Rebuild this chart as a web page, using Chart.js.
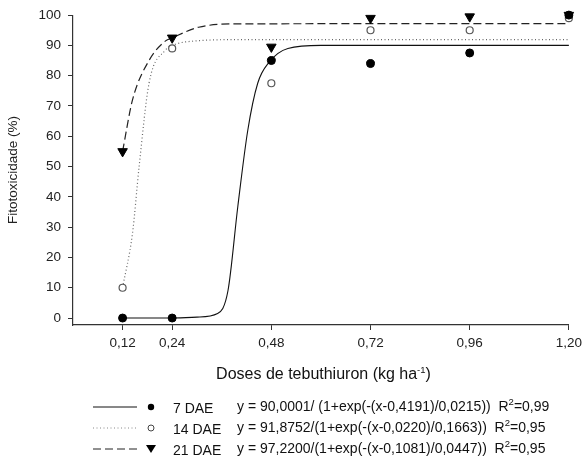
<!DOCTYPE html>
<html><head><meta charset="utf-8">
<script src="https://cdn.jsdelivr.net/npm/chart.js@4"></script>
<style>
html,body{margin:0;padding:0;background:#fff;}
#wrap{position:relative;width:587px;height:458px;font-family:"Liberation Sans",Arial,sans-serif;color:#111;}
#c{position:absolute;left:0;top:0;}
.xt{position:absolute;left:73px;width:501px;top:365px;text-align:center;font-size:16px;}
.lg{position:absolute;font-size:14px;white-space:pre;line-height:16px;}
sup{font-size:9.5px;vertical-align:6px;line-height:0;}
svg{position:absolute;left:0;top:0;}
</style></head><body>
<div id="wrap">
<canvas id="c" width="587" height="458"></canvas>
<div class="xt">Doses de tebuthiuron (kg ha<sup>-1</sup>)</div>
<svg width="587" height="458" id="lsvg"></svg>
</div>
<script>
// ---- data ----
const doses = [0.12, 0.24, 0.48, 0.72, 0.96, 1.20];
const xTickLabels = ['0,12','0,24','0,48','0,72','0,96','1,20'];
const yTicks = [0,10,20,30,40,50,60,70,80,90,100];
const obs7  = [0, 0, 85, 84, 87.5, 100];
const obs14 = [10, 89, 77.5, 95, 95, 99];
const obs21 = [55, 92.5, 89.5, 99, 99.5, 100];
// fitted curves
const fit7x  = [0.12, 0.24, 0.30, 0.35, 0.375, 0.399, 0.423, 0.447, 0.475, 0.52, 0.60, 1.20];
const fit7y  = [0, 0, 0.3, 1.5, 9, 37, 62, 77.5, 84.5, 89, 90, 90];
const fit14x = [0.12, 0.144, 0.16, 0.184, 0.224, 0.24, 0.30, 0.40, 1.20];
const fit14y = [10, 28, 50, 77.5, 88.5, 90, 91.5, 91.9, 91.9];
const fit21x = [0.12, 0.144, 0.184, 0.224, 0.24, 0.304, 0.40, 1.20];
const fit21y = [55, 72, 85, 91.5, 92.5, 96, 97.1, 97.2];
const seriesNames = ['7 DAE','14 DAE','21 DAE'];
const equations = [
  'y = 90,0001/ (1+exp(-(x-0,4191)/0,0215))',
  'y = 91,8752/(1+exp(-(x-0,0220)/0,1663))',
  'y = 97,2200/(1+exp(-(x-0,1081)/0,0447))'
];
const r2 = ['0,99','0,95','0,95'];

const pts = (xs, ys) => xs.map((x,i)=>({x, y: ys[i]}));

const ds = [
  {data: pts(fit7x, fit7y), showLine:true, borderColor:'#111', borderWidth:1.1, pointRadius:0, cubicInterpolationMode:'monotone', order:5},
  {data: pts(fit14x, fit14y), showLine:true, borderColor:'#666', borderWidth:1.2, borderDash:[1,2.5], pointRadius:0, cubicInterpolationMode:'monotone', order:5},
  {data: pts(fit21x, fit21y), showLine:true, borderColor:'#222', borderWidth:1.2, borderDash:[8,4], pointRadius:0, cubicInterpolationMode:'monotone', order:5},
  {data: pts(doses, obs7), showLine:false, pointStyle:'circle', pointRadius:4, backgroundColor:'#000', borderColor:'#000', borderWidth:1, order:1},
  {data: pts(doses, obs14), showLine:false, pointStyle:'circle', pointRadius:3.5, backgroundColor:'#fff', borderColor:'#555', borderWidth:1.2, order:1},
  {data: pts(doses, obs21), showLine:false, pointStyle:'triangle', rotation:180, pointRadius:5.5, backgroundColor:'#000', borderColor:'#000', borderWidth:1, order:1}
];

new Chart(document.getElementById('c'), {
  type:'scatter',
  data:{datasets: ds},
  options:{
    responsive:false, animation:false, clip:false,
    layout:{padding:{top:15,right:13,left:0,bottom:0}},
    plugins:{legend:{display:false}, tooltip:{enabled:false}},
    scales:{
      x:{type:'linear', min:0, max:1.2,
        afterBuildTicks: s => { s.ticks = doses.map(v=>({value:v})); },
        afterFit: s => { s.height = 133; },
        ticks:{callback:(v,i)=>xTickLabels[i], color:'#222', font:{family:'Liberation Sans', size:13.5}, padding:5, maxRotation:0, autoSkip:false},
        grid:{display:true, drawOnChartArea:false, drawTicks:true, tickLength:5, color:'#333', lineWidth:1},
        border:{display:true, color:'#333', width:1.2}
      },
      y:{type:'linear', min:-2.3, max:100,
        afterBuildTicks: s => { s.ticks = yTicks.map(v=>({value:v})); },
        afterFit: s => { s.width = 73; },
        ticks:{color:'#222', font:{family:'Liberation Sans', size:13.5}, padding:7},
        grid:{display:true, drawOnChartArea:false, drawTicks:true, tickLength:5, color:'#333', lineWidth:1},
        border:{display:true, color:'#333', width:1.2},
        title:{display:true, text:'Fitotoxicidade (%)', color:'#222', font:{family:'Liberation Sans', size:13.5}, padding:{top:5,bottom:4}}
      }
    }
  }
});

// legend (HTML text + SVG samples)
const rowsY = [407, 428, 449];
const svg = document.getElementById('lsvg');
const wrap = document.getElementById('wrap');
const NS = 'http://www.w3.org/2000/svg';
const dashes = ['', '1 2.5', '8 4'];
const lcols = ['#111', '#888', '#222'];
rowsY.forEach((y,i)=>{
  const ln = document.createElementNS(NS,'line');
  ln.setAttribute('x1',93); ln.setAttribute('x2',137); ln.setAttribute('y1',y); ln.setAttribute('y2',y);
  ln.setAttribute('stroke', lcols[i]); ln.setAttribute('stroke-width', 1);
  if (dashes[i]) ln.setAttribute('stroke-dasharray', dashes[i]);
  svg.appendChild(ln);
  let m;
  if (i===0){ m=document.createElementNS(NS,'circle'); m.setAttribute('cx',151); m.setAttribute('cy',y); m.setAttribute('r',3.2); m.setAttribute('fill','#000'); }
  else if (i===1){ m=document.createElementNS(NS,'circle'); m.setAttribute('cx',151); m.setAttribute('cy',y); m.setAttribute('r',3); m.setAttribute('fill','#fff'); m.setAttribute('stroke','#444'); }
  else { m=document.createElementNS(NS,'polygon'); m.setAttribute('points',`146,${y-4} 156,${y-4} 151,${y+4}`); m.setAttribute('fill','#000'); }
  svg.appendChild(m);
  const n = document.createElement('div'); n.className='lg'; n.style.left='173px'; n.style.top=(y-7)+'px'; n.textContent=seriesNames[i]; wrap.appendChild(n);
  const e = document.createElement('div'); e.className='lg'; e.style.left='237px'; e.style.top=(y-9)+'px';
  e.innerHTML = equations[i] + '  R<sup>2</sup>=' + r2[i]; wrap.appendChild(e);
});
</script>
</body></html>
